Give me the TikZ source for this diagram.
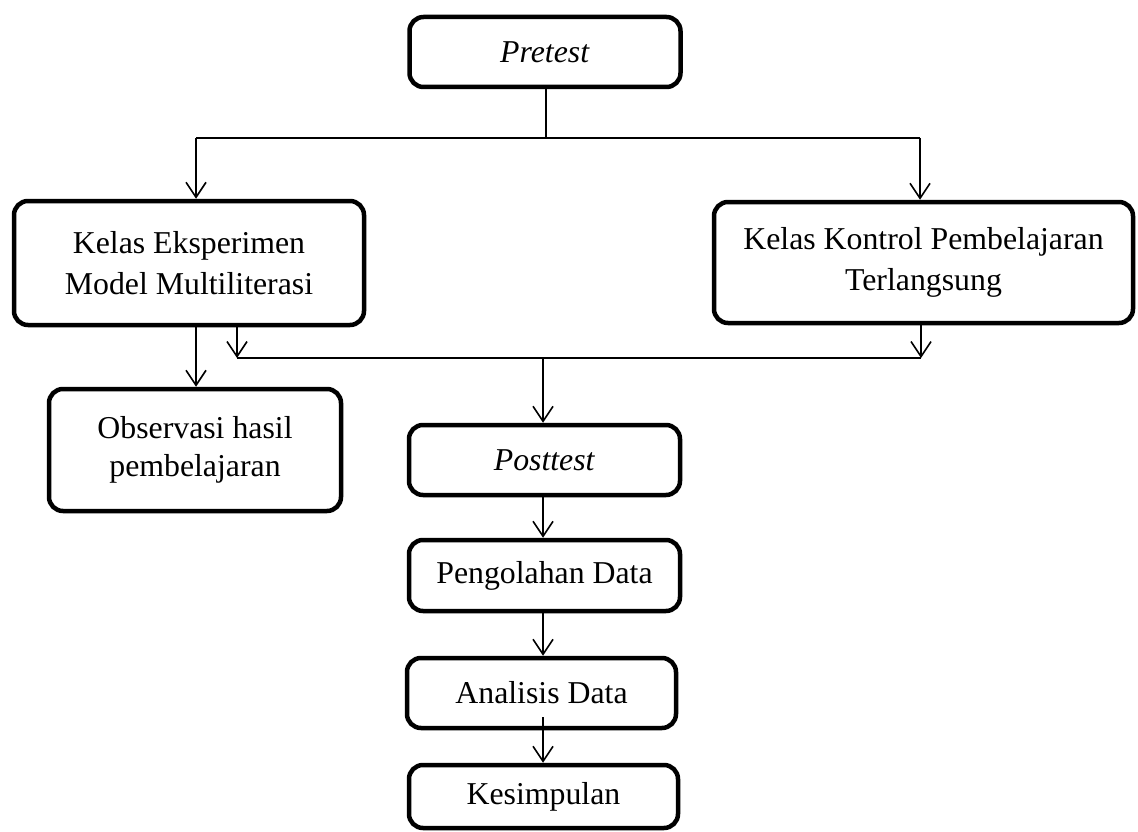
\documentclass[tikz,border=0pt]{standalone}
\usepackage{fontspec}
\setmainfont{Liberation Serif}
\usetikzlibrary{arrows.meta}
\begin{document}
\begin{tikzpicture}[x=1pt,y=-1pt,
  box/.style={draw, line width=4.5pt, rounded corners=14pt, align=center, inner sep=0pt,
    font=\fontsize{31.8}{41}\selectfont},
  conn/.style={line width=1.6pt, -{Straight Barb[length=15pt,width=20pt,line width=1.6pt]}},
  plain/.style={line width=1.6pt},
  thick line/.style={line width=2.4pt}]
\useasboundingbox (0,0) rectangle (1138,832);
% nodes
\node[box, minimum width=271pt, minimum height=70pt] (pre) at (545,52) {\textit{Pretest}};
\node[box, minimum width=350pt, minimum height=124pt] (eks) at (189,263) {Kelas Eksperimen\\Model Multiliterasi};
\node[box, minimum width=419pt, minimum height=121pt] (kon) at (923.5,262.5) {Kelas Kontrol Pembelajaran\\Terlangsung};
\node[box, minimum width=292pt, minimum height=122pt, font=\fontsize{31.8}{38}\selectfont] (obs) at (195,450) {Observasi hasil\\pembelajaran};
\node[box, minimum width=271pt, minimum height=70pt] (post) at (544.5,460) {\textit{Posttest}};
\node[box, minimum width=271pt, minimum height=71pt] (olah) at (544.5,575.5) {Pengolahan Data};
\node[box, minimum width=269pt, minimum height=70pt] (ana) at (541.5,693) {Analisis Data};
\node[box, minimum width=269pt, minimum height=63pt] (kes) at (543.5,796.5) {Kesimpulan};
% coordinates
\coordinate (tc) at (546,138);
\coordinate (tl) at (196,138);
\coordinate (tr) at (920,138);
\coordinate (bl) at (237,358);
\coordinate (br) at (921,358);
\coordinate (bc) at (543,358);
% connectors
\draw[plain] (pre.south -| tc) -- (tc);
\draw[plain] (tl) -- (tr);
\draw[conn] (tl) -- (tl |- eks.north);
\draw[conn] (tr) -- (tr |- kon.north);
\draw[conn] (eks.south -| tl) -- (tl |- obs.north);
\draw[conn] (eks.south -| bl) -- (bl);
\draw[conn] (kon.south -| br) -- (br);
\draw[thick line] (bl) -- (br);
\draw[conn] (bc) -- (bc |- post.north);
\draw[conn] (post.south -| bc) -- (bc |- olah.north);
\draw[conn] (olah.south -| bc) -- (bc |- ana.north);
\draw[conn] ([yshift=13pt]ana.south -| bc) -- (bc |- kes.north);
\end{tikzpicture}
\end{document}
